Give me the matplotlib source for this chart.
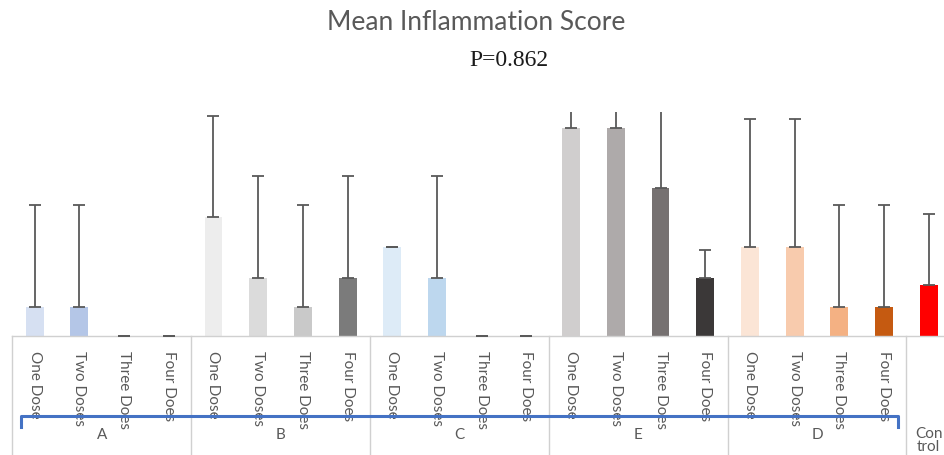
import matplotlib
matplotlib.use("Agg")
import matplotlib.pyplot as plt
import matplotlib.transforms as mtransforms
import numpy as np

# Data (mean score and upper error for each group/dose)
groups = ['A', 'B', 'C', 'E', 'D']
doses = ['One Dose', 'Two Doses', 'Three Does', 'Four Does']
means = {
    'A': [0.33, 0.33, 0.0, 0.0],
    'B': [1.34, 0.66, 0.33, 0.66],
    'C': [1.0, 0.66, 0.0, 0.0],
    'E': [2.34, 2.34, 1.67, 0.66],
    'D': [1.0, 1.0, 0.33, 0.33],
}
errors = {
    'A': [1.14, 1.14, 0.0, 0.0],
    'B': [1.14, 1.14, 1.14, 1.14],
    'C': [0.0, 1.14, 0.0, 0.0],
    'E': [1.15, 1.15, 1.15, 0.31],
    'D': [1.44, 1.44, 1.14, 1.14],
}
colors = {
    'A': ['#d6e0f2', '#b4c6e7', '#8faadc', '#4472c4'],
    'B': ['#ededed', '#dbdbdb', '#c9c9c9', '#7b7b7b'],
    'C': ['#ddebf7', '#bdd7ee', '#9dc3e6', '#2e75b6'],
    'E': ['#d0cece', '#aeaaaa', '#767171', '#3b3838'],
    'D': ['#fbe5d6', '#f8cbad', '#f4b183', '#c55a11'],
}
control_mean = 0.58
control_err = 0.79

plt.rcParams['font.family'] = ['Lato', 'DejaVu Sans']

fig = plt.figure(figsize=(9.44, 4.56), dpi=100)
ax = fig.add_axes([12.3 / 944, 1 - 337.3 / 456, 1 - 12.3 / 944, 224.3 / 456])

vals, errs, cols, labels = [], [], [], []
for g in groups:
    vals += means[g]
    errs += errors[g]
    cols += colors[g]
    labels += doses
vals.append(control_mean)
errs.append(control_err)
cols.append('#ff0000')
labels.append('')

x = np.arange(len(vals))
ax.bar(x, vals, width=0.4, color=cols, zorder=2)
ax.errorbar(x, vals, yerr=[np.zeros(len(errs)), errs], fmt='none',
            ecolor='#595959', elinewidth=1.3, capsize=4, capthick=1.3, zorder=3)

ax.set_xlim(-0.5, 20.34)
ax.set_ylim(0, 2.52)
for s in ax.spines.values():
    s.set_visible(False)
ax.set_yticks([])
ax.set_xticks([])

trans = mtransforms.blended_transform_factory(ax.transData, ax.transAxes)
# baseline and category separators
ax.plot([-0.5, 20.34], [0, 0], transform=trans, color='#d0d0d0', lw=1, clip_on=False)
for b in [-0.5, 3.5, 7.5, 11.5, 15.5, 19.5]:
    ax.plot([b, b], [0, -0.55], transform=trans, color='#d0d0d0', lw=1, clip_on=False)

# dose labels (rotated)
for xi, lab in zip(x, labels):
    if lab:
        ax.text(xi, -0.062, lab, transform=trans, rotation=270, ha='center', va='top',
                fontsize=11, color='#595959')

# group labels
for i, g in enumerate(groups):
    ax.text(4 * i + 1.5, -0.437, g, transform=trans, ha='center', va='center',
            fontsize=11, color='#595959')
ax.text(20, -0.40, 'Con\ntrol', transform=trans, ha='center', va='top',
        fontsize=11, color='#595959', linespacing=0.95)

# blue bracket
ax.plot([-0.31, -0.31, 19.31, 19.31], [-0.403, -0.357, -0.357, -0.403], transform=trans,
        color='#4472c4', lw=2.2, clip_on=False, solid_joinstyle='round', zorder=5)

fig.text(476 / 944, 1 - 23 / 456, 'Mean Inflammation Score', ha='center', va='center',
         fontsize=19, color='#595959')
fig.text(509 / 944, 1 - 60 / 456, 'P=0.862', ha='center', va='center',
         fontsize=17, color='#1a1a1a', family='Liberation Serif')

fig.savefig('out.png', dpi=100)
